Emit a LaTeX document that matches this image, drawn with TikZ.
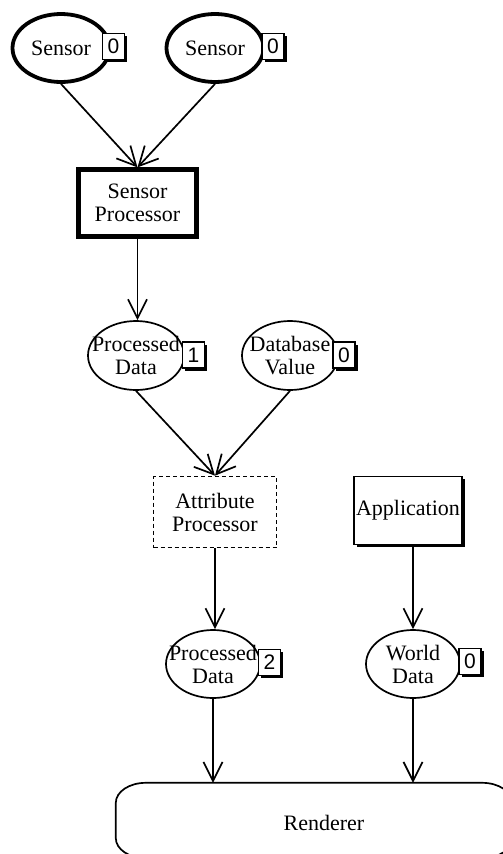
\documentclass[tikz,border=0pt]{standalone}
\usepackage{fontspec}
\setmainfont{Liberation Serif}
\newfontfamily\badgefont{Liberation Sans}
\usetikzlibrary{arrows.meta,shapes.geometric,shadows}
% zero-width line so long labels do not enlarge the ellipses
\newcommand{\ztext}[1]{\makebox[0pt]{#1}}

\begin{document}
\begin{tikzpicture}[x=1pt,y=-1pt,
  font=\fontsize{22}{23}\selectfont,
  every node/.append style={inner sep=0pt, align=center},
  oval/.style={ellipse, draw, line width=1.7pt, fill=white,
    minimum width=96pt, minimum height=69pt},
  sensoroval/.style={oval, line width=3.8pt, minimum width=97pt, minimum height=68pt},
  badge/.style={draw, fill=white, line width=1.5pt,
    minimum width=22pt, minimum height=26pt,
    font=\badgefont\fontsize{21}{22}\selectfont,
    drop shadow={shadow xshift=2.5pt, shadow yshift=-2.5pt, fill=black, opacity=1}},
  heavybox/.style={draw, line width=4.2pt, minimum width=118pt, minimum height=67pt},
  dashbox/.style={draw, line width=1.7pt, dash pattern=on 4pt off 3pt,
    minimum width=123pt, minimum height=71pt},
  shadowbox/.style={draw, fill=white, line width=1.7pt,
    minimum width=108pt, minimum height=68pt,
    drop shadow={shadow xshift=2.5pt, shadow yshift=-2.5pt, fill=black, opacity=1}},
  link/.style={line width=1.7pt,
    -{Straight Barb[length=19pt, width=19pt, line width=1.7pt]}},
]
\useasboundingbox (0,0) rectangle (503,854);
\clip (0,0) rectangle (503,854);

% sensors
\node[sensoroval] (s1) at (61,48) {Sensor};
\node[badge] (s1b) at (113.5,46.5) {0};
\node[sensoroval] (s2) at (215,48) {Sensor};
\node[badge] (s2b) at (273,46.5) {0};

% sensor processor
\node[heavybox] (sp) at (137.5,203) {Sensor\\Processor};

% first processed data and database value
\node[oval] (pd1) at (136,355.5) {\ztext{Processed}\\\ztext{Data}};
\node[badge] (pd1b) at (193.5,355) {1};
\node[oval] (db) at (290,355.5) {\ztext{Database}\\\ztext{Value}};
\node[badge] (dbb) at (344,355) {0};

% attribute processor and application
\node[dashbox] (ap) at (215,512) {Attribute\\Processor};
\node[shadowbox] (app) at (408,510.5) {Application};

% second processed data and world data
\node[oval, minimum width=94pt, minimum height=68pt] (pd2) at (213,664) {\ztext{Processed}\\\ztext{Data}};
\node[badge] (pd2b) at (269.5,662.5) {2};
\node[oval, minimum width=94pt, minimum height=68pt] (wd) at (413,664) {\ztext{World}\\\ztext{Data}};
\node[badge] (wdb) at (470,661.5) {0};

% renderer
\node[minimum width=396pt, minimum height=75pt] (ren) at (314,820.5) {};
\draw[line width=1.7pt]
  ([xshift=30pt]ren.north west) -- ([xshift=-30pt]ren.north east)
  arc[start angle=90, end angle=0, x radius=30pt, y radius=20pt]
  -- ([yshift=20pt]ren.south east)
  arc[start angle=0, end angle=-90, x radius=30pt, y radius=20pt]
  -- ([xshift=30pt]ren.south west)
  arc[start angle=-90, end angle=-180, x radius=30pt, y radius=20pt]
  -- ([yshift=-20pt]ren.north west)
  arc[start angle=180, end angle=90, x radius=30pt, y radius=20pt]
  -- cycle;
\node (renlabel) at (324,823) {Renderer};

% connectors
\draw[link] (s1.south) -- (sp.north);
\draw[link] (s2.south) -- (sp.north);
\draw[link] (sp.south) -- (pd1.north -| sp.south);
\draw[link] (pd1.south) -- (ap.north);
\draw[link] (db.south) -- (ap.north);
\draw[link] (ap.south) -- (ap.south |- pd2.north);
\draw[link] (wd.north |- app.south) -- (wd.north);
\draw[link] (pd2.south) -- (pd2.south |- ren.north);
\draw[link] (wd.south) -- (wd.south |- ren.north);
\end{tikzpicture}
\end{document}
